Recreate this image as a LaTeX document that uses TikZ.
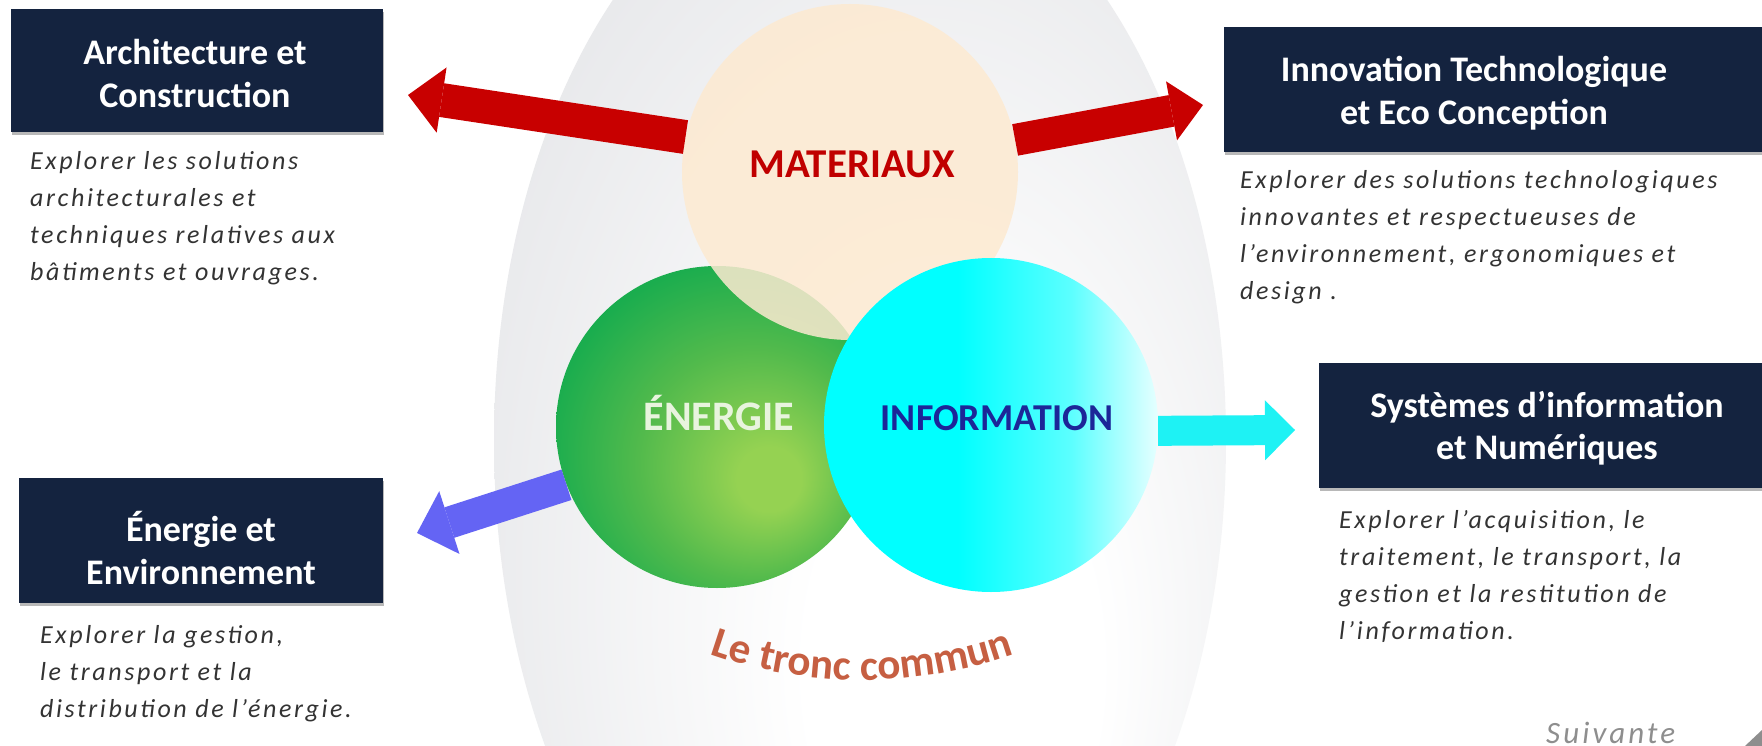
\documentclass[tikz,border=0pt]{standalone}
\usepackage{fontspec}
\setmainfont{Carlito}
\newfontfamily\descfont[LetterSpace=10]{Carlito}
\usetikzlibrary{arrows.meta,shadows,decorations.text}

\definecolor{navy}{HTML}{14233F}
\definecolor{eggedge}{HTML}{E3E4E7}
\definecolor{peach}{HTML}{FDEAD1}
\definecolor{matred}{HTML}{C00000}
\definecolor{arrred}{HTML}{C80000}
\definecolor{arrblue}{HTML}{6464F4}
\definecolor{arrcyan}{HTML}{1EF2F4}
\definecolor{enertext}{HTML}{E8F4DE}
\definecolor{infotext}{HTML}{1C2698}
\definecolor{tronc}{HTML}{C65F42}
\definecolor{descgray}{HTML}{333333}
\definecolor{suiv}{HTML}{8E8E8E}
\definecolor{grA}{HTML}{95D252}
\definecolor{grB}{HTML}{52BA4C}
\definecolor{grC}{HTML}{06A84F}
\definecolor{cyA}{HTML}{00FFFF}
\definecolor{cyB}{HTML}{5CFFFF}
\definecolor{cyC}{HTML}{E6FFFF}

\pgfdeclareradialshading{eggshade}{\pgfpoint{8bp}{-12bp}}{color(0bp)=(white); color(10bp)=(white); color(36bp)=(eggedge); color(50bp)=(eggedge)}
\pgfdeclareradialshading{greenshade}{\pgfpoint{9bp}{-9bp}}{color(0bp)=(grA); color(5bp)=(grA); color(18bp)=(grB); color(34bp)=(grC); color(50bp)=(grC)}
\pgfdeclarehorizontalshading{infoshade}{100bp}{color(0bp)=(cyA); color(25bp)=(cyA); color(45bp)=(cyA); color(62bp)=(cyB); color(75bp)=(cyC); color(100bp)=(cyC)}

\begin{document}
\begin{tikzpicture}[x=1pt,y=1pt,
  titlebox/.style={fill=navy, draw=none, inner sep=0pt, drop shadow={shadow xshift=1pt, shadow yshift=-3pt, opacity=0.28, fill=black}},
  titletext/.style={text=white, font=\fontsize{36}{42.5}\selectfont\bfseries, align=center, inner sep=0pt},
  desc/.style={font=\descfont\itshape\fontsize{26}{37}\selectfont, text=descgray, align=left, inner sep=0pt, anchor=base west},
  bigcircle/.style={circle, inner sep=0pt, draw=none},
  biglabel/.style={inner sep=0pt, anchor=base},
  redL/.style={draw=arrred, line width=34pt, -{Triangle[length=34pt, width=66pt, line width=0pt]}},
  redR/.style={draw=arrred, line width=32pt, -{Triangle[length=32pt, width=60pt, line width=0pt]}},
  blueA/.style={draw=arrblue, line width=32pt, -{Triangle[length=34pt, width=66pt, line width=0pt]}},
  cyanA/.style={draw=arrcyan, line width=30pt, -{Triangle[length=30pt, width=60pt, line width=0pt]}},
]
\fill[white] (0,0) rectangle (1762,-746);
\useasboundingbox (0,0) rectangle (1762,-746);

% background egg
\path[shade, shading=eggshade] (860,-441) ellipse [x radius=366, y radius=598];

% circles
\node[bigcircle, minimum size=322pt, shade, shading=greenshade] (ener) at (717,-427) {};
\node[bigcircle, minimum size=336pt, fill=peach, fill opacity=0.85] (mat) at (850,-172) {};
\node[bigcircle, minimum size=334pt, shade, shading=infoshade] (info) at (991,-425) {};

% arrow tips
\coordinate (tipA) at (408,-95);
\coordinate (tipB) at (1203,-105);
\coordinate (tipC) at (417,-533);
\coordinate (tipD) at (1295,-430);

\draw[redL] (mat.168) -- (tipA);
\draw[redR] (mat.11) -- (tipB);
\draw[blueA] (ener.201) -- (tipC);
\draw[cyanA] (info.-2) -- (tipD);

% circle labels
\node[biglabel, text=matred, font=\fontsize{41}{41}\selectfont\bfseries] (lm) at (852,-178) {MATERIAUX};
\node[biglabel, text=enertext, font=\fontsize{42}{42}\selectfont\bfseries] (le) at (719,-430) {ÉNERGIE};
\node[biglabel, text=infotext, font=\fontsize{38}{38}\selectfont\bfseries] (li) at (997,-430) {INFORMATION};

% le tronc commun
\path[decorate, decoration={text along path, text align=center, text color=tronc,
  text={|\fontsize{43}{43}\selectfont\bfseries|Le tronc commun}}]
  (862,-219) ++(-120:461) arc[start angle=-120, end angle=-60, radius=461];

% title boxes
\node[titlebox, minimum width=372pt, minimum height=123pt] (b1) at (197,-70.5) {};
\node[titlebox, minimum width=576pt, minimum height=125pt] (b2) at (1512,-89.5) {};
\node[titlebox, minimum width=364pt, minimum height=125pt] (b3) at (201,-540.5) {};
\node[titlebox, minimum width=481pt, minimum height=125pt] (b4) at (1559.5,-425.5) {};

\node[titletext] (t1) at (195,-73.5) {Architecture et\\Construction};
\node[titletext] (t2) at (1474,-93) {Innovation Technologique\\et Eco Conception};
\node[titletext] (t3) at (201,-548) {Énergie et\\Environnement};
\node[titletext] (t4) at (1547,-428) {Systèmes d’information\\et Numériques};

% descriptions (anchored at the baseline of the last line)
\node[desc] (d1) at (30,-280) {Explorer les solutions\\architecturales et\\techniques relatives aux\\bâtiments et ouvrages.};
\node[desc] (d2) at (1240,-299) {Explorer des solutions technologiques\\innovantes et respectueuses de\\l’environnement, ergonomiques et\\design .};
\node[desc] (d3) at (40,-717) {Explorer la gestion,\\le transport et la\\distribution de l’énergie.};
\node[desc] (d4) at (1339,-639) {Explorer l’acquisition, le\\traitement, le transport, la\\gestion et la restitution de\\l’information.};

% suivante
\node[font=\descfont\itshape\fontsize{31}{31}\selectfont, text=suiv, anchor=base west, inner sep=0pt] (suiv) at (1546,-743) {Suivante};
\fill[suiv] (1745,-746) -- (1762,-746) -- (1762,-730) -- cycle;
\end{tikzpicture}
\end{document}
